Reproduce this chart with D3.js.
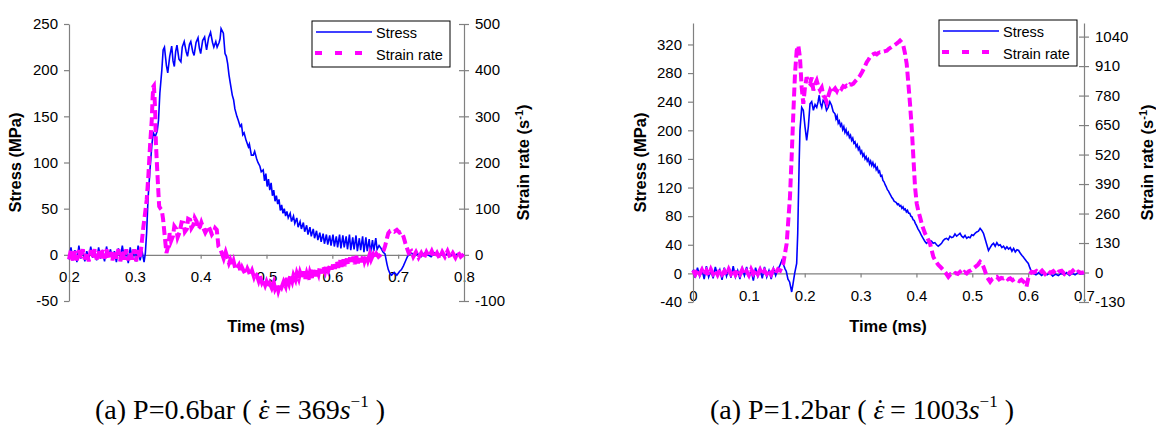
<!DOCTYPE html>
<html>
<head>
<meta charset="utf-8">
<script src="https://cdn.jsdelivr.net/npm/d3@7/dist/d3.min.js"></script>
<style>
body { margin: 0; background: #fff; }
svg text { font-family: "Liberation Sans", Arial, sans-serif; fill: #000; }
.axis text { font-size: 15px; }
.axis path, .axis line { stroke: #808080; stroke-width: 1.2; }
.title { font-size: 16.5px; font-weight: bold; }
.legend text { font-size: 14.5px; }
.caption { font-family: "Liberation Serif", "Times New Roman", serif; font-size: 28px; }
</style>
</head>
<body>
<div id="chart"></div>
<script>
// ---- data ----
// panel (a): P=0.6bar, time in ms
var stressA = [
[0.200,-5],[0.203,8],[0.206,-6],[0.209,5],[0.212,-8],[0.215,10],[0.218,-4],[0.221,6],[0.224,-7],[0.227,4],
[0.230,-5],[0.233,9],[0.236,-3],[0.239,5],[0.242,-6],[0.245,8],[0.248,-4],[0.251,3],[0.254,-7],[0.257,9],
[0.260,-2],[0.263,6],[0.266,-5],[0.269,4],[0.272,-8],[0.275,7],[0.278,-3],[0.281,10],[0.284,-4],[0.287,5],
[0.290,-9],[0.293,8],[0.296,-5],[0.299,6],[0.302,-7],[0.305,10],[0.308,-6],[0.311,4],[0.314,-8],[0.316,2],
[0.318,25],[0.320,60],[0.323,92],[0.326,120],[0.328,132],[0.331,128],[0.334,134],[0.336,146],[0.338,175],[0.341,200],
[0.343,222],[0.345,225],[0.348,205],[0.350,197],[0.353,215],[0.356,226],[0.358,210],[0.360,204],[0.362,220],[0.364,227],
[0.367,212],[0.370,209],[0.372,225],[0.375,231],[0.378,220],[0.380,215],[0.383,228],[0.385,231],[0.388,220],[0.390,216],
[0.393,230],[0.396,235],[0.398,224],[0.400,218],[0.403,232],[0.406,236],[0.408,226],[0.409,222],[0.412,235],[0.415,241],
[0.418,230],[0.420,225],[0.423,231],[0.425,225],[0.428,230],[0.4295,234],[0.431,245],[0.4345,240],[0.437,218],[0.439,215],
[0.441,207],[0.443,195],[0.445,186],[0.448,173],[0.450,168],[0.452,158],[0.455,150],[0.457,146],[0.460,139],[0.462,141],
[0.464,130],[0.466,132],[0.469,124],[0.4725,117],[0.474,120],[0.477,108],[0.480,108],[0.482,112],[0.485,104],[0.487,100],
[0.490,96],[0.492,90],[0.495,92],[0.497,80],[0.499,88],[0.501,74],[0.503,82],[0.505,70],[0.507,78],[0.509,64],
[0.511,70],[0.513,58],[0.515,64],[0.517,55],[0.519,60],[0.521,48],[0.523,54],[0.525,45],[0.527,50],[0.529,42],
[0.531,47],[0.533,40],[0.536,45],[0.538,36],[0.541,42],[0.543,34],[0.546,40],[0.548,30],[0.551,36],[0.553,28],
[0.556,35],[0.558,25],[0.561,32],[0.563,22],[0.566,30],[0.568,20],[0.571,28],[0.573,18],[0.576,26],[0.578,16],
[0.581,24],[0.583,14],[0.586,23],[0.588,12],[0.591,22],[0.593,11],[0.596,21],[0.598,10],[0.601,22],[0.603,9],
[0.606,20],[0.608,8],[0.611,22],[0.613,7],[0.616,21],[0.618,8],[0.621,20],[0.623,6],[0.626,22],[0.628,5],
[0.631,19],[0.633,6],[0.636,21],[0.638,4],[0.641,18],[0.643,5],[0.646,20],[0.648,3],[0.651,19],[0.653,4],
[0.656,17],[0.658,2],[0.661,16],[0.663,4],[0.666,18],[0.668,6],[0.671,10],[0.674,7],[0.677,3],[0.680,1],
[0.683,-10],[0.685,-16],[0.688,-21],[0.690,-22],[0.694,-19],[0.698,-22],[0.702,-18],[0.705,-16],[0.708,-12],[0.711,-7],
[0.714,-2],[0.716,0],[0.720,2],[0.725,-1],[0.730,1],[0.735,-2],[0.740,2],[0.745,0],[0.750,-2],[0.755,2],
[0.760,-1],[0.765,1],[0.770,-2],[0.775,2],[0.780,0],[0.785,-1],[0.790,1],[0.795,-1],[0.800,0]
];
var strainA = [
[0.200,-10],[0.203,12],[0.206,-14],[0.209,8],[0.212,-12],[0.215,10],[0.218,-8],[0.221,12],[0.224,-10],[0.227,6],
[0.230,-14],[0.233,10],[0.236,-6],[0.239,12],[0.242,-10],[0.245,8],[0.248,-12],[0.251,10],[0.254,-8],[0.257,12],
[0.260,-10],[0.263,6],[0.266,-12],[0.269,10],[0.272,-8],[0.275,12],[0.278,-14],[0.281,8],[0.284,-10],[0.287,12],
[0.290,-12],[0.293,6],[0.296,-10],[0.299,12],[0.302,-14],[0.305,10],[0.308,-8],[0.310,20],[0.313,61],[0.316,95],
[0.318,119],[0.3205,170],[0.323,234],[0.3257,292],[0.327,340],[0.328,364],[0.329,366],[0.330,340],[0.331,307],[0.332,242],
[0.334,184],[0.336,130],[0.337,105],[0.339,100],[0.341,97],[0.343,76],[0.346,32],[0.348,4],[0.351,20],[0.353,47],
[0.355,30],[0.358,41],[0.360,62],[0.363,56],[0.365,38],[0.368,49],[0.371,70],[0.374,69],[0.376,50],[0.379,56],
[0.381,78],[0.384,76],[0.386,58],[0.389,65],[0.391,80],[0.394,72],[0.396,56],[0.399,61],[0.401,70],[0.404,58],
[0.407,48],[0.410,56],[0.412,62],[0.415,52],[0.417,44],[0.420,50],[0.422,58],[0.4245,54],[0.427,18],[0.430,12],
[0.432,4],[0.435,-8],[0.438,6],[0.440,-3],[0.443,-18],[0.445,-11],[0.448,-24],[0.450,-14],[0.453,-32],[0.455,-29],
[0.458,-22],[0.461,-38],[0.463,-28],[0.465,-34],[0.468,-42],[0.471,-30],[0.473,-36],[0.475,-44],[0.478,-34],[0.481,-48],
[0.483,-40],[0.485,-43],[0.488,-56],[0.490,-46],[0.493,-60],[0.495,-54],[0.498,-66],[0.500,-58],[0.503,-70],[0.505,-62],
[0.508,-72],[0.511,-60],[0.513,-74],[0.516,-65],[0.518,-78],[0.521,-64],[0.523,-70],[0.526,-58],[0.529,-68],[0.531,-50],
[0.534,-62],[0.536,-46],[0.539,-58],[0.541,-44],[0.544,-54],[0.546,-40],[0.549,-52],[0.551,-38],[0.554,-50],[0.556,-36],
[0.559,-52],[0.561,-40],[0.564,-54],[0.566,-38],[0.569,-50],[0.571,-32],[0.574,-46],[0.576,-30],[0.579,-42],[0.581,-26],
[0.584,-40],[0.586,-24],[0.589,-36],[0.591,-22],[0.594,-34],[0.597,-20],[0.599,-32],[0.602,-16],[0.604,-30],[0.607,-14],
[0.609,-28],[0.612,-12],[0.614,-26],[0.617,-10],[0.619,-24],[0.622,-8],[0.624,-22],[0.627,-6],[0.629,-20],[0.632,-4],
[0.634,-20],[0.637,-2],[0.639,-18],[0.642,-4],[0.644,-16],[0.647,0],[0.649,-14],[0.652,-2],[0.654,-12],[0.657,2],
[0.659,-10],[0.662,0],[0.664,-8],[0.667,2],[0.670,-4],[0.673,0],[0.675,4],[0.678,10],[0.680,18],[0.683,36],
[0.685,47],[0.688,52],[0.690,53],[0.694,50],[0.698,54],[0.702,48],[0.705,50],[0.708,40],[0.711,25],[0.714,12],
[0.716,4],[0.720,8],[0.723,-4],[0.727,6],[0.731,-6],[0.735,4],[0.739,-8],[0.743,6],[0.747,-4],[0.751,8],
[0.755,-6],[0.759,4],[0.763,-8],[0.767,6],[0.771,-4],[0.775,8],[0.779,-6],[0.783,4],[0.787,-6],[0.791,6],
[0.795,-4],[0.800,2]
];
// panel (b): P=1.2bar
var stressB = [
[0.000,5],[0.004,-6],[0.008,8],[0.012,-4],[0.016,6],[0.020,-8],[0.024,10],[0.028,-5],[0.032,4],[0.036,-7],
[0.040,9],[0.044,-3],[0.048,5],[0.052,-9],[0.056,8],[0.060,-4],[0.064,6],[0.068,-6],[0.072,10],[0.076,-5],
[0.080,4],[0.084,-8],[0.088,7],[0.092,-3],[0.096,9],[0.100,-6],[0.104,5],[0.108,-10],[0.112,8],[0.116,-4],
[0.120,6],[0.124,-7],[0.128,9],[0.132,-5],[0.136,4],[0.140,-8],[0.144,7],[0.148,-3],[0.152,6],[0.155,10],
[0.159,18],[0.162,12],[0.165,6],[0.167,3],[0.170,-8],[0.173,-12],[0.1767,-26],[0.179,-15],[0.182,0],[0.1856,14],
[0.1875,56],[0.1886,100],[0.190,153],[0.1915,200],[0.1946,232],[0.1975,228],[0.2005,205],[0.2035,186],[0.2065,205],[0.2095,237],
[0.2125,240],[0.2155,228],[0.2185,236],[0.2215,232],[0.224,240],[0.226,249],[0.228,238],[0.2305,232],[0.233,242],[0.236,239],
[0.239,228],[0.242,232],[0.245,240],[0.248,235],[0.251,226],[0.2542,223],[0.256,216],[0.258,220],[0.260,210],[0.262,213],
[0.264,206],[0.266,209],[0.268,201],[0.270,205],[0.272,197],[0.274,201],[0.276,194],[0.278,197],[0.280,190],[0.282,193],
[0.284,186],[0.286,189],[0.288,182],[0.290,184],[0.292,177],[0.294,180],[0.296,173],[0.298,176],[0.300,168],[0.302,171],
[0.304,164],[0.306,167],[0.308,160],[0.310,163],[0.312,157],[0.314,160],[0.316,153],[0.318,157],[0.320,151],[0.322,155],
[0.324,149],[0.326,152],[0.328,145],[0.330,148],[0.332,141],[0.334,143],[0.336,136],[0.338,137],[0.340,130],[0.342,128],
[0.344,124],[0.346,121],[0.348,117],[0.350,115],[0.352,112],[0.354,109],[0.356,106],[0.358,104],[0.360,101],[0.362,100],
[0.364,99],[0.366,96],[0.368,97],[0.370,94],[0.372,95],[0.374,91],[0.376,93],[0.378,89],[0.380,90],[0.382,86],
[0.384,88],[0.386,84],[0.388,84],[0.390,80],[0.392,79],[0.394,75],[0.396,74],[0.398,70],[0.400,67],[0.403,62],
[0.406,58],[0.409,53],[0.412,49],[0.415,45],[0.418,42],
[0.421,44],[0.424,46],[0.427,45],[0.430,42],[0.433,43],[0.436,40],[0.439,38],[0.442,40],[0.445,42],[0.448,46],
[0.451,48],[0.454,49],[0.457,47],[0.460,52],[0.463,50],[0.466,51],[0.469,55],[0.472,52],[0.475,54],[0.478,56],
[0.481,52],[0.484,50],[0.487,53],[0.490,49],[0.493,51],[0.496,50],[0.499,54],[0.502,53],[0.505,56],[0.508,58],
[0.511,59],[0.514,63],[0.517,60],[0.520,56],[0.523,48],[0.526,40],[0.529,32],[0.532,36],[0.535,40],[0.538,42],
[0.541,38],[0.544,43],[0.547,39],[0.550,40],[0.553,36],[0.556,38],[0.559,34],[0.562,37],[0.565,34],[0.568,36],
[0.571,31],[0.574,35],[0.577,30],[0.580,33],[0.583,32],[0.586,28],[0.589,25],[0.5914,23],[0.594,20],[0.597,17],
[0.6003,14],[0.603,8],[0.606,2],[0.609,0],[0.614,-2],[0.619,1],[0.624,-3],[0.629,0],[0.634,-2],[0.639,1],
[0.644,-4],[0.649,-1],[0.654,-3],[0.659,0],[0.664,-2],[0.669,1],[0.674,-3],[0.679,0],[0.684,-2],[0.689,1],
[0.694,-1],[0.700,0]
];
var strainB = [
[0.000,10],[0.004,-8],[0.008,14],[0.012,-6],[0.016,12],[0.020,-10],[0.024,8],[0.028,-12],[0.032,14],[0.036,-6],
[0.040,10],[0.044,-10],[0.048,12],[0.052,-8],[0.056,6],[0.060,-12],[0.064,14],[0.068,-6],[0.072,10],[0.076,-10],
[0.080,8],[0.084,-8],[0.088,12],[0.092,-10],[0.096,6],[0.100,-12],[0.104,14],[0.108,-6],[0.112,10],[0.116,-8],
[0.120,12],[0.124,-10],[0.128,8],[0.132,-6],[0.136,12],[0.140,-8],[0.144,10],[0.148,-4],[0.152,14],[0.156,8],
[0.1617,40],[0.1677,128],[0.1736,333],[0.1766,509],[0.1796,700],[0.1826,876],[0.1856,978],[0.1886,1000],[0.1915,949],[0.1945,817],
[0.1975,744],[0.2005,817],[0.2035,861],[0.2065,840],[0.2095,832],[0.2125,860],[0.2155,803],[0.2185,830],[0.2215,846],[0.2245,820],
[0.2275,803],[0.2305,815],[0.2335,780],[0.2365,770],[0.2394,751],[0.2424,780],[0.2454,803],[0.2484,790],[0.2514,803],[0.2545,812],
[0.2575,800],[0.260,815],[0.263,817],[0.266,810],[0.269,822],[0.272,818],[0.275,824],[0.278,820],[0.281,830],[0.284,828],
[0.287,832],[0.290,842],[0.293,850],[0.296,858],[0.299,868],[0.302,880],[0.305,895],[0.308,910],[0.311,927],[0.314,938],
[0.317,950],[0.320,958],[0.323,963],[0.326,966],[0.329,962],[0.332,968],[0.335,971],[0.338,970],[0.341,974],[0.344,976],
[0.347,978],[0.350,985],[0.353,990],[0.356,995],[0.359,1000],[0.362,1005],[0.365,1010],[0.368,1016],[0.3706,1022],[0.3736,1014],
[0.3766,1000],[0.3796,965],[0.3826,919],[0.3856,832],[0.3885,744],[0.3915,641],[0.3945,509],[0.3975,377],[0.4005,304],[0.4035,270],
[0.4064,245],[0.410,210],[0.4154,172],[0.420,150],[0.4243,128],[0.4303,69],[0.435,48],[0.4393,33],[0.444,22],[0.4483,11],
[0.452,0],[0.4572,-19],[0.461,-8],[0.466,-11],[0.470,-2],[0.474,-6],[0.478,3],[0.482,-8],[0.486,2],[0.490,-4],
[0.494,6],[0.498,10],[0.502,18],[0.506,26],[0.510,34],[0.514,47],[0.517,40],[0.520,25],[0.523,5],[0.526,-19],
[0.529,-30],[0.532,-41],[0.536,-28],[0.540,-22],[0.544,-19],[0.548,-30],[0.552,-24],[0.556,-26],[0.560,-20],[0.564,-30],
[0.568,-26],[0.572,-34],[0.576,-28],[0.580,-33],[0.584,-38],[0.588,-32],[0.592,-41],[0.595,-50],[0.597,-63],[0.599,-40],
[0.6003,-26],[0.603,-8],[0.606,3],[0.610,0],[0.615,7],[0.620,-4],[0.625,8],[0.630,-6],[0.635,10],[0.640,-2],
[0.645,6],[0.650,-8],[0.655,4],[0.660,8],[0.665,-6],[0.670,6],[0.675,-4],[0.680,8],[0.685,-6],[0.690,4],
[0.695,-2],[0.700,2]
];
// tick values and labels
var timeTicksA = [0.2, 0.3, 0.4, 0.5, 0.6, 0.7, 0.8];
var timeLabelsA = ["0.2", "0.3", "0.4", "0.5", "0.6", "0.7", "0.8"];
var stressTicksA = [-50, 0, 50, 100, 150, 200, 250];
var rateTicksA = [-100, 0, 100, 200, 300, 400, 500];
var timeTicksB = [0, 0.1, 0.2, 0.3, 0.4, 0.5, 0.6, 0.7];
var timeLabelsB = ["0", "0.1", "0.2", "0.3", "0.4", "0.5", "0.6", "0.7"];
var stressTicksB = [-40, 0, 40, 80, 120, 160, 200, 240, 280, 320];
var rateTicksB = [-130, 0, 130, 260, 390, 520, 650, 780, 910, 1040];
var seriesNames = ["Stress", "Strain rate"];

var svg = d3.select("#chart").append("svg")
.attr("width", 1156)
.attr("height", 425);

// plain integer labels, hyphen minus like the original
function plain(d) { return String(d); }

function drawPanel(p)
{
var x = d3.scaleLinear().domain(p.xDomain).range([p.left, p.right]);
var yL = d3.scaleLinear().domain(p.yLDomain).range([p.bottom, p.top]);
var yR = d3.scaleLinear().domain(p.yRDomain).range([p.bottom, p.top]);
var g = svg.append("g");

// x axis runs through stress = 0
g.append("g")
.attr("class", "axis")
.attr("transform", "translate(0," + yL(0) + ")")
.call(d3.axisBottom(x).tickValues(p.xTicks)
.tickFormat(function(d, i) { return p.xLabels[i]; })
.tickSize(4).tickSizeOuter(0).tickPadding(13));

// left axis
g.append("g")
.attr("class", "axis")
.attr("transform", "translate(" + p.left + ",0)")
.call(d3.axisLeft(yL).tickValues(p.yLTicks).tickFormat(plain)
.tickSize(5).tickSizeOuter(0).tickPadding(6));

// right axis, ticks cross the line
g.append("g")
.attr("class", "axis")
.attr("transform", "translate(" + p.right + ",0)")
.call(d3.axisRight(yR).tickValues(p.yRTicks).tickFormat(plain)
.tickSize(5).tickSizeOuter(0).tickPadding(6))
.selectAll(".tick line").attr("x1", -5);

var lineL = d3.line().x(function(d) { return x(d[0]); }).y(function(d) { return yL(d[1]); });
var lineR = d3.line().x(function(d) { return x(d[0]); }).y(function(d) { return yR(d[1]); });

g.append("path")
.datum(p.stress)
.attr("fill", "none")
.attr("stroke", "#0000ff")
.attr("stroke-width", 1.6)
.attr("d", lineL);

g.append("path")
.datum(p.strain)
.attr("fill", "none")
.attr("stroke", "#ff00ff")
.attr("stroke-width", 4)
.attr("stroke-dasharray", "9,4")
.attr("d", lineR);

// axis titles
g.append("text")
.attr("class", "title")
.attr("transform", "translate(" + p.yTitleL + "," + ((p.top + p.bottom) / 2) + ") rotate(-90)")
.style("text-anchor", "middle")
.text("Stress (MPa)");

var tr = g.append("text")
.attr("class", "title")
.attr("transform", "translate(" + p.yTitleR + "," + ((p.top + p.bottom) / 2) + ") rotate(-90)")
.style("text-anchor", "middle");
tr.append("tspan").text("Strain rate (s");
tr.append("tspan").attr("dy", -6).style("font-size", "11px").text("-1");
tr.append("tspan").attr("dy", 6).text(")");

g.append("text")
.attr("class", "title")
.attr("x", p.xTitle)
.attr("y", 332)
.style("text-anchor", "middle")
.text("Time (ms)");

// legend
var lg = g.append("g")
.attr("class", "legend")
.attr("transform", "translate(" + p.legend[0] + "," + p.legend[1] + ")");
lg.append("rect")
.attr("width", 138).attr("height", 46)
.attr("fill", "#fff").attr("stroke", "#000").attr("stroke-width", 1);
lg.append("line")
.attr("x1", 4).attr("x2", 60).attr("y1", 11).attr("y2", 11)
.attr("stroke", "#0000ff").attr("stroke-width", 1.6);
lg.append("line")
.attr("x1", 3).attr("x2", 60).attr("y1", 32).attr("y2", 32)
.attr("stroke", "#ff00ff").attr("stroke-width", 4).attr("stroke-dasharray", "7,13");
lg.selectAll(".lt")
.data(seriesNames)
.enter().append("text")
.attr("x", 64)
.attr("y", function(d, i) { return 17 + i * 22; })
.text(function(d) { return d; });
}

drawPanel({
stress: stressA, strain: strainA,
xDomain: [0.2, 0.8], yLDomain: [-50, 250], yRDomain: [-100, 500],
xTicks: timeTicksA, xLabels: timeLabelsA, yLTicks: stressTicksA, yRTicks: rateTicksA,
left: 69, right: 464, top: 24, bottom: 301,
yTitleL: 21, yTitleR: 529, xTitle: 266, legend: [312, 21]
});

drawPanel({
stress: stressB, strain: strainB,
xDomain: [0, 0.7], yLDomain: [-40, 350], yRDomain: [-130, 1100],
xTicks: timeTicksB, xLabels: timeLabelsB, yLTicks: stressTicksB, yRTicks: rateTicksB,
left: 693, right: 1084, top: 23, bottom: 302,
yTitleL: 646, yTitleR: 1153, xTitle: 888, legend: [939, 20]
});

// captions under the panels
var captions = [
{x: 240, p: "(a) P=0.6bar ( ", v: " = 369"},
{x: 862, p: "(a) P=1.2bar ( ", v: " = 1003"}
];
captions.forEach(function(c) {
var t = svg.append("text")
.attr("class", "caption")
.attr("x", c.x)
.attr("y", 419)
.style("text-anchor", "middle");
t.append("tspan").text(c.p);
t.append("tspan").style("font-style", "italic").text("\u03B5");
// dot above the epsilon, then step back so spacing stays
t.append("tspan").attr("dx", -9).attr("dy", -1).text("\u02D9");
t.append("tspan").attr("dx", -2).attr("dy", 1).text(c.v);
t.append("tspan").style("font-style", "italic").text("s");
t.append("tspan").attr("dy", -12).style("font-size", "17px").text("\u22121");
t.append("tspan").attr("dy", 12).text(" )");
});
</script>
</body>
</html>
